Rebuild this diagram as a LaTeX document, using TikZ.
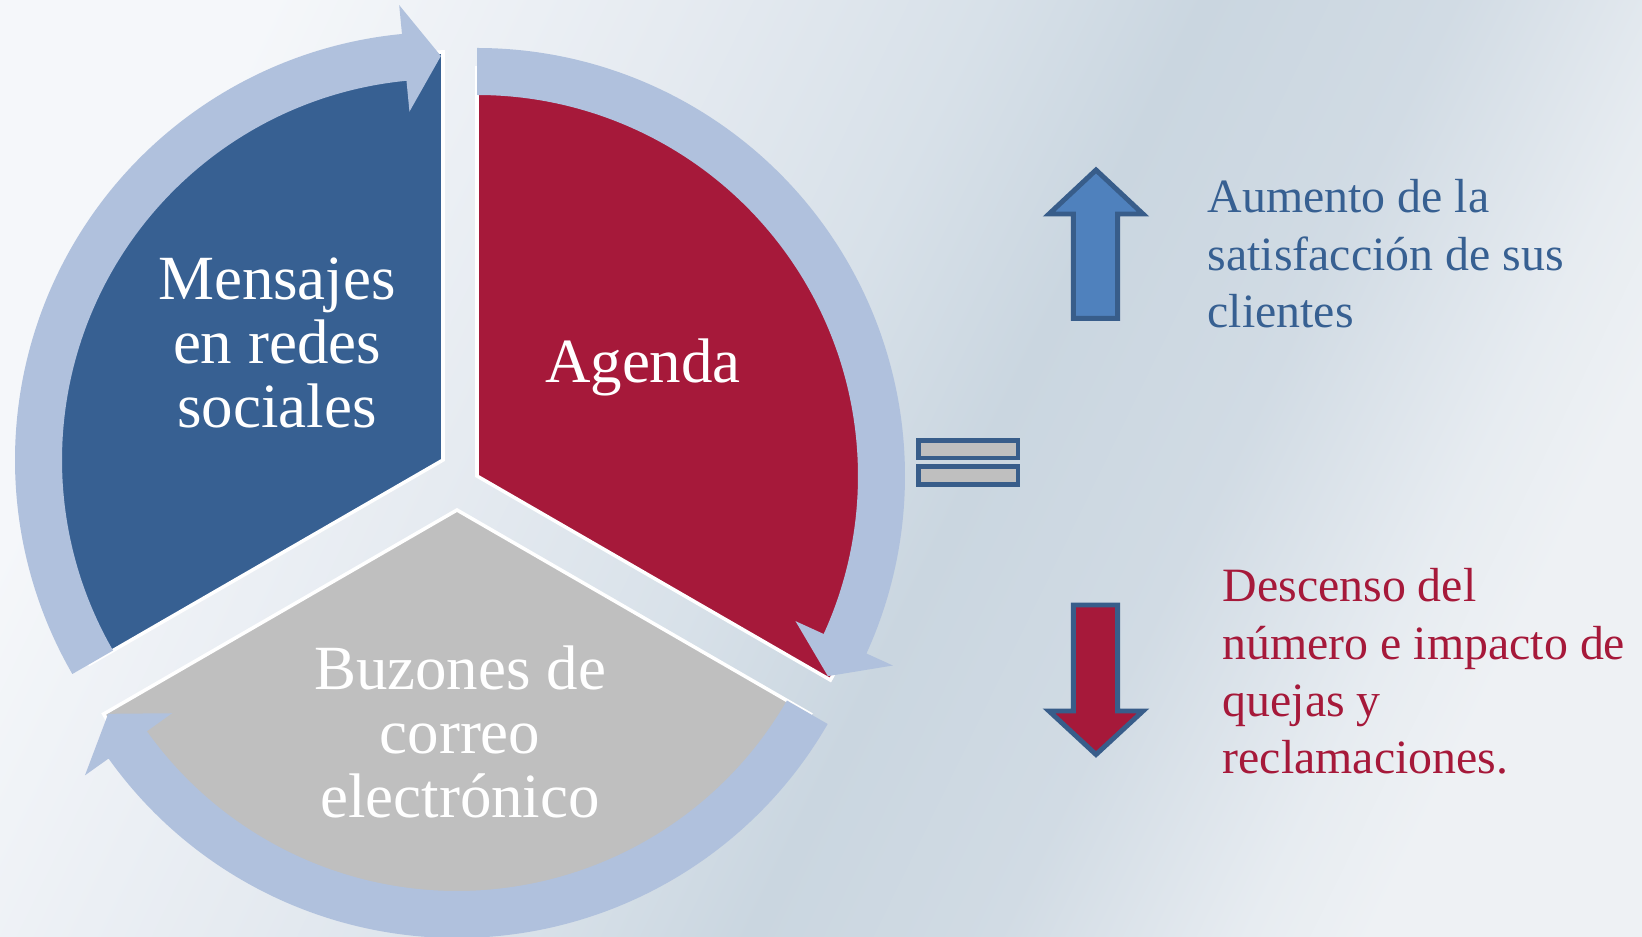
\documentclass[tikz,border=0pt]{standalone}
\usepackage{fontspec}
\setmainfont{Liberation Serif}
\usepackage{tikz}
\usepackage{xcolor}

\definecolor{azulsetor}{RGB}{55,96,146}
\definecolor{vermelho}{RGB}{166,25,58}
\definecolor{cinza}{RGB}{191,191,191}
\definecolor{anelcor}{RGB}{176,193,221}
\definecolor{azulseta}{RGB}{79,129,189}
\definecolor{bordaseta}{RGB}{56,93,138}
\definecolor{fundoa}{RGB}{245,247,250}
\definecolor{fundob}{RGB}{230,235,241}
\definecolor{fundoc}{RGB}{216,225,233}
\definecolor{fundod}{RGB}{202,214,224}
\definecolor{fundoe}{RGB}{209,219,228}
\definecolor{fundof}{RGB}{231,236,241}
\definecolor{fundog}{RGB}{238,241,244}
\pgfdeclarehorizontalshading{fundo}{100bp}{color(0bp)=(fundoa); color(25bp)=(fundoa);
    color(38bp)=(fundob); color(48bp)=(fundoc); color(55bp)=(fundod); color(63bp)=(fundoe);
    color(71bp)=(fundof); color(75bp)=(fundog); color(100bp)=(fundog)}

\begin{document}
\begin{tikzpicture}[x=0.01cm, y=0.01cm,
        setor/.style={draw=white, line width=1pt},
        anel/.style={fill=anelcor},
        rotulo/.style={text=white, align=center, inner sep=0pt, font=\fontsize{17.9}{18.2}\selectfont},
        texto/.style={align=left, inner sep=0pt, anchor=north west, font=\fontsize{13.6}{16.3}\selectfont},
        bloco/.style={draw=bordaseta, line width=1.4pt}]
        % Fundo
        \useasboundingbox (0,0) rectangle (1642,936);
        \shade[shading=fundo, shading angle=-26] (0,0) rectangle (1642,936);

        % Centros dos setores
        \coordinate (M) at (443,476);
        \coordinate (A) at (477,460);
        \coordinate (B) at (457,426);

        % Setores
        \draw[setor, fill=azulsetor] (M) -- ++(90:408) arc[start angle=90, end angle=210, radius=408] -- cycle;
        \draw[setor, fill=vermelho] (A) -- ++(90:408) arc[start angle=90, end angle=-30, radius=408] -- cycle;
        \draw[setor, fill=cinza] (B) -- ++(210:408) arc[start angle=210, end angle=330, radius=408] -- cycle;

        % Setas circulares
        \fill[anel] ([shift={(210:428)}]M) arc[start angle=210, end angle=95.5, radius=428]
            -- ([shift={(95.5:457)}]M) -- ([shift={(90.3:404)}]M) -- ([shift={(95.5:350)}]M)
            -- ([shift={(95.5:381)}]M) arc[start angle=95.5, end angle=210, radius=381] -- cycle;
        \fill[anel] ([shift={(90:428)}]A) arc[start angle=90, end angle=-24.5, radius=428]
            -- ([shift={(-24.5:457)}]A) -- ([shift={(-29.7:404)}]A) -- ([shift={(-24.5:350)}]A)
            -- ([shift={(-24.5:381)}]A) arc[start angle=-24.5, end angle=90, radius=381] -- cycle;
        \fill[anel] ([shift={(-30:428)}]B) arc[start angle=-30, end angle=-144.5, radius=428]
            -- ([shift={(-144.5:457)}]B) -- ([shift={(-149.7:404)}]B) -- ([shift={(-144.5:350)}]B)
            -- ([shift={(-144.5:381)}]B) arc[start angle=-144.5, end angle=-30, radius=381] -- cycle;

        % Textos dos setores
        \node[rotulo, anchor=north] (mensajes) at (277,679) {Mensajes\\en redes\\sociales};
        \node[rotulo, anchor=base] (agenda) at (643,553) {Agenda};
        \node[rotulo, anchor=north] (buzones) at (460,291) {Buzones de\\correo\\electrónico};

        % Sinal de igual
        \draw[bloco, fill=cinza] (918.6,495.7) rectangle (1018,478);
        \draw[bloco, fill=cinza] (918.6,469.4) rectangle (1018,451.3);

        % Setas para cima e para baixo
        \draw[bloco, fill=azulseta] (1096,766) -- (1143,722) -- (1117.6,722) -- (1117.6,617.6)
            -- (1073.4,617.6) -- (1073.4,722) -- (1049,722) -- cycle;
        \draw[bloco, fill=vermelho] (1096,181.5) -- (1143,225) -- (1117.6,225) -- (1117.6,331)
            -- (1073.4,331) -- (1073.4,225) -- (1049,225) -- cycle;

        % Textos da direita
        \node[texto, text=azulsetor] (aumento) at (1207,757) {Aumento de la\\satisfacción de sus\\clientes};
        \node[texto, text=vermelho] (descenso) at (1222,368) {Descenso del\\número e impacto de\\quejas y\\reclamaciones.};
    \end{tikzpicture}
\end{document}
